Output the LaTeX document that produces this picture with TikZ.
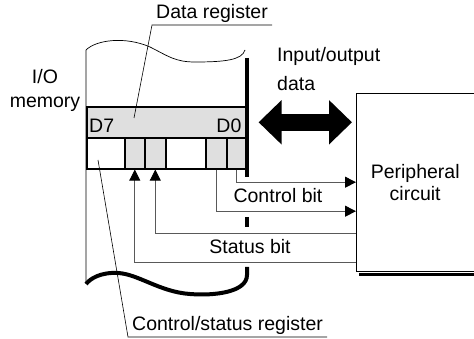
\documentclass[tikz,border=0pt]{standalone}
\usepackage{fontspec}
\setmainfont{Liberation Sans}
\usepackage{tikz}
\usetikzlibrary{arrows.meta,positioning,calc}
\tikzset{
  regbox/.style={draw,line width=1.6pt,inner sep=0pt,minimum height=31pt,anchor=north west},
  memedge/.style={line width=4pt},
  sigline/.style={black!65,line width=0.9pt},
  sigarrow/.style={sigline,-{Triangle[length=11pt,width=11pt,black]}},
  leader/.style={line width=0.6pt},
  lbl/.style={inner xsep=4pt,inner ysep=2pt},
  bigarrow/.style={line width=17pt,{Triangle[length=23pt,width=43pt]}-{Triangle[length=23pt,width=43pt]}},
  every node/.style={font=\fontsize{19.5}{22}\selectfont}
}
\colorlet{regfill}{gray!25}

\begin{document}
\begin{tikzpicture}[x=1pt,y=-1pt]
  \useasboundingbox (0,0) rectangle (474,339);
  % memory outline
  \draw[line width=0.7pt] (86,283) -- (86,50)
    .. controls (96,40) and (125,36) .. (150,47)
    .. controls (168,56) and (175,62) .. (195,62)
    .. controls (225,62) and (242,60) .. (245,50);
  % registers
  \node[regbox,fill=regfill,minimum width=159pt] (datareg) at (86,106) {};
  \foreach \nm/\xa/\w/\fc in {c1/86/38/white, c2/124/20/regfill, c3/144/21/regfill,
                             c4/165/40/white, c5/205/21/regfill, c6/226/19/regfill}
    \node[regbox,fill=\fc,minimum width=\w pt] (\nm) at (\xa,137) {};
  \node[anchor=base west,inner sep=0pt] (d7) at ($(datareg.south west)+(3,-6)$) {D7};
  \node[anchor=base east,inner sep=0pt] (d0) at ($(datareg.south east)+(-5,-6)$) {D0};
  % thick right edge, broken where the bits pass
  \draw[memedge] (247,58) -- (247,177);
  \draw[memedge] (247,217) -- (247,227);
  \draw[memedge] (247,267) -- (247,275)
    .. controls (247,292) and (215,296) .. (190,294)
    .. controls (160,292) and (138,274) .. (118,273)
    .. controls (100,272) and (90,279) .. (86,284);
  % peripheral circuit
  \node[minimum width=118pt,minimum height=178pt,anchor=north west,align=center]
    (periph) at (356,93) {Peripheral\\circuit};
  \draw[line width=0.8pt] (periph.north east) -- (periph.north west)
    -- (periph.south west) -- (periph.south east);
  \draw[line width=3pt] ([shift={(3pt,-3pt)}]periph.south west) -- ([yshift=-3pt]periph.south east);
  % data in/out
  \coordinate (ioR) at (periph.west |- datareg.east);
  \draw[bigarrow] ([xshift=12pt]datareg.east) -- ([xshift=-4pt]ioR);
  \node[anchor=north west,inner sep=0pt,align=left,font=\fontsize{19.5}{29}\selectfont]
    (iolbl) at (277,47) {Input/output\\data};
  % control and status bits
  \draw[sigarrow] (c6.south) |- (periph.west);
  \draw[sigarrow] (c5.south) |- ([yshift=-29pt]periph.west);
  \draw[sigarrow] ([yshift=-51pt]periph.west) -| (c3.south);
  \draw[sigarrow] ([yshift=-80pt]periph.west) -| (c2.south);
  \node (ctllbl) at (278,196) {Control bit};
  \node (stlbl) at (250,247) {Status bit};
  % labels
  \node[align=center,anchor=north,inner sep=0pt,font=\fontsize{19.5}{24}\selectfont]
    (memlbl) at (45,69) {I/O\\memory};
  \node[lbl,anchor=south west] (dlbl) at (152,25) {Data register};
  \coordinate (dpin) at (134,118);
  \draw[leader] (dpin) -- (dlbl.south west) -- (dlbl.south east);
  \node[lbl,anchor=south west] (clbl) at (128,337) {Control/status register};
  \coordinate (cpin) at (98,160);
  \draw[leader] (cpin) -- (clbl.south west) -- (clbl.south east);
\end{tikzpicture}
\end{document}
